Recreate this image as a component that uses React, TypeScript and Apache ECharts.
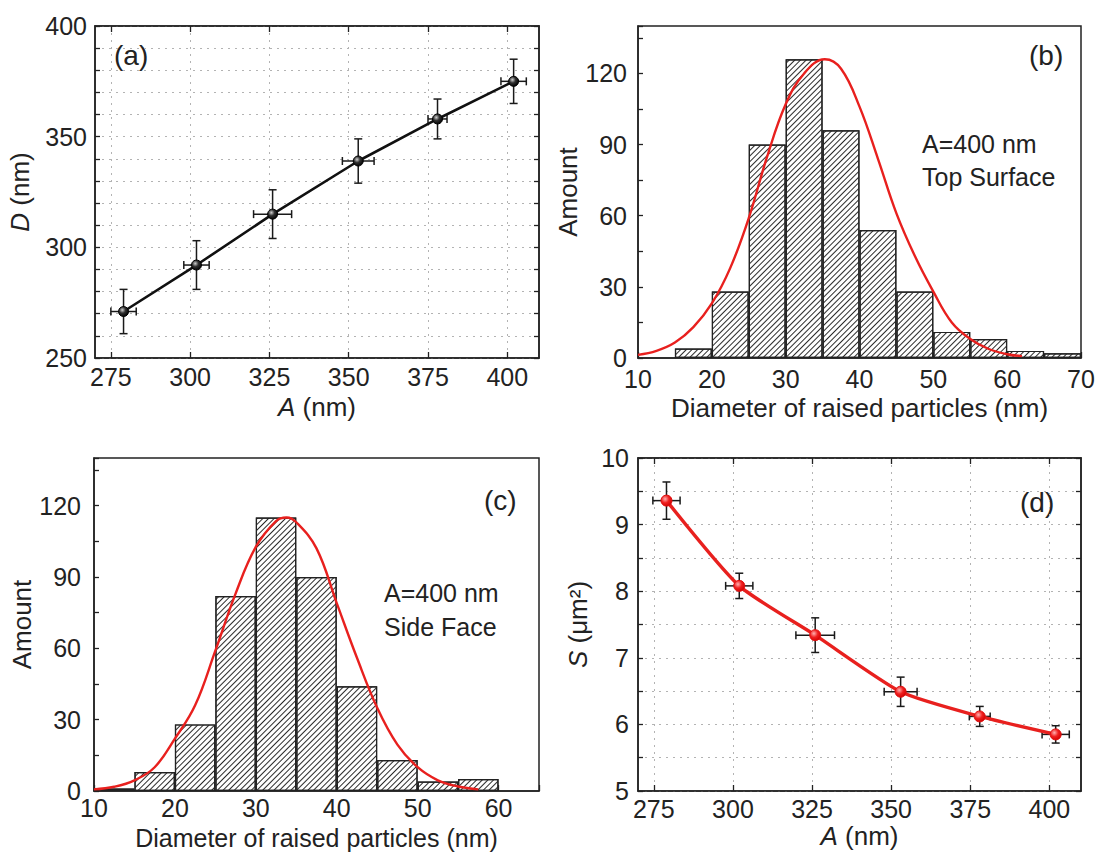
import React, { useEffect, useRef } from 'react';
import * as echarts from 'echarts';

// ---------- Panel (a): D versus A ----------
const aA = [279, 302, 326, 353, 378, 402];
const aAErr = [4, 4, 6, 5, 3, 4];
const aD = [271, 292, 315, 339, 358, 375];
const aDErr = [10, 11, 11, 10, 9, 10];

// ---------- Panel (d): S versus A ----------
const dA = [279, 302, 326, 353, 378, 402];
const dAErr = [4.3, 4.3, 6.1, 5.2, 3.3, 4.3];
const dS = [9.36, 8.08, 7.34, 6.49, 6.12, 5.85];
const dSErr = [0.28, 0.19, 0.26, 0.22, 0.15, 0.13];

const aTickValues = [275, 300, 325, 350, 375, 400];

// ---------- Panel (b): histogram, top surface ----------
const bBins = ['10-15', '15-20', '20-25', '25-30', '30-35', '35-40', '40-45', '45-50', '50-55', '55-60', '60-65', '65-70'];
const bCounts = ['-', 4, 28, 90, 126, 96, 54, 28, 11, 8, 3, 2];
const bFitX = [10, 12.5, 15, 17.5, 20, 22.5, 25, 27.5, 30, 32.5, 35.3, 37.5, 40, 42.5, 45, 47.5, 50, 52.5, 55, 57.5, 60, 62];
const bFitY = [1.3, 3, 6.5, 13, 23, 38, 59, 85, 107, 120, 126, 122, 106, 84, 61, 43, 28, 15, 8, 3.8, 1.6, 0.8];

// ---------- Panel (c): histogram, side face ----------
const cBins = ['10-15', '15-20', '20-25', '25-30', '30-35', '35-40', '40-45', '45-50', '50-55', '55-60', '60-65'];
const cCounts = [1, 8, 28, 82, 115, 90, 44, 13, 4, 5, '-'];
const cFitX = [10, 12.5, 15, 17.5, 20, 22.5, 25, 27.5, 30, 32.5, 33.8, 35, 37.5, 40, 42.5, 45, 47.5, 50, 52.5, 55, 57.5];
const cFitY = [0.7, 1.8, 4.5, 10, 22, 36, 59, 83, 102.6, 113.5, 115, 113, 102, 79, 56, 35, 19.5, 10, 4.5, 1.9, 0.7];

const FONT = '"Liberation Sans", Arial, Helvetica, sans-serif';
const TXT = '#222';
const AXIS_COLOR = '#222';
const RED = '#e8201e';

const labelStyle = { color: TXT, fontSize: 25, lineHeight: 22, fontFamily: FONT };
const makeName = (size: number) => ({
  color: TXT,
  fontSize: size,
  lineHeight: size,
  fontFamily: FONT,
  rich: { i: { fontStyle: 'italic', fontSize: size, lineHeight: size, fontFamily: FONT, color: TXT } },
});
const nameStyle = makeName(26);
const axisLine = { show: true, onZero: false, lineStyle: { color: AXIS_COLOR, width: 1.5 } };
const dotted = { show: true, lineStyle: { color: '#b3b3b3', type: [2, 5], width: 1 } };
const tick = (extra: any = {}) => ({ show: true, inside: true, length: 6, lineStyle: { color: AXIS_COLOR, width: 1.3 }, ...extra });

const hatch = {
  symbol: 'rect',
  symbolSize: 1,
  color: '#2a2a2a',
  backgroundColor: '#ffffff',
  dashArrayX: [1, 0],
  dashArrayY: [1, 2.2],
  rotation: -Math.PI / 4,
};

const errRender = (color: string) => (params: any, api: any) => {
  const x = api.value(0);
  const y = api.value(1);
  const ex = api.value(2);
  const ey = api.value(3);
  const c = api.coord([x, y]);
  const l = api.coord([x - ex, y]);
  const r = api.coord([x + ex, y]);
  const t = api.coord([x, y + ey]);
  const b = api.coord([x, y - ey]);
  const cap = 4;
  const style = { stroke: color, lineWidth: 1.5 };
  return {
    type: 'group',
    children: [
      { type: 'line', shape: { x1: l[0], y1: c[1], x2: r[0], y2: c[1] }, style },
      { type: 'line', shape: { x1: l[0], y1: c[1] - cap, x2: l[0], y2: c[1] + cap }, style },
      { type: 'line', shape: { x1: r[0], y1: c[1] - cap, x2: r[0], y2: c[1] + cap }, style },
      { type: 'line', shape: { x1: c[0], y1: t[1], x2: c[0], y2: b[1] }, style },
      { type: 'line', shape: { x1: c[0] - cap, y1: t[1], x2: c[0] + cap, y2: t[1] }, style },
      { type: 'line', shape: { x1: c[0] - cap, y1: b[1], x2: c[0] + cap, y2: b[1] }, style },
    ],
  };
};

const blackBall = {
  type: 'radial', x: 0.38, y: 0.35, r: 0.7,
  colorStops: [{ offset: 0, color: '#d0d0d0' }, { offset: 0.45, color: '#303030' }, { offset: 1, color: '#000' }],
};
const redBall = {
  type: 'radial', x: 0.38, y: 0.35, r: 0.7,
  colorStops: [{ offset: 0, color: '#ffb0b0' }, { offset: 0.5, color: '#f02020' }, { offset: 1, color: '#d00000' }],
};

const gridBox = { show: true, borderColor: AXIS_COLOR, borderWidth: 1.5, outerBoundsMode: 'none' };

const panelText = (text: string, x: number, y: number, size = 25) => ({
  type: 'text',
  x,
  y,
  silent: true,
  style: { text, fill: TXT, fontSize: size, fontFamily: FONT, align: 'left', verticalAlign: 'middle' },
});

const option: any = {
  animation: false,
  backgroundColor: '#ffffff',
  grid: [
    { left: 95, top: 26, width: 444, height: 332, ...gridBox },
    { left: 638, top: 26, width: 443, height: 332, ...gridBox },
    { left: 94, top: 458, width: 445, height: 333, ...gridBox },
    { left: 638, top: 458, width: 443, height: 333, ...gridBox },
  ],
  xAxis: [
    // 0: (a) bottom
    {
      type: 'value', gridIndex: 0, position: 'bottom', min: 270, max: 410,
      axisLine, axisTick: tick({ customValues: aTickValues }),
      axisLabel: { ...labelStyle, margin: 8, customValues: aTickValues },
      splitLine: dotted,
      name: '{i|A} (nm)', nameLocation: 'middle', nameGap: 36, nameMoveOverlap: false, nameTextStyle: nameStyle,
    },
    // 1: (a) top
    {
      type: 'value', gridIndex: 0, position: 'top', min: 270, max: 410,
      axisLine, axisTick: tick({ customValues: aTickValues }),
      axisLabel: { show: false, customValues: aTickValues }, splitLine: { show: false },
    },
    // 2: (b) bottom value
    {
      type: 'value', gridIndex: 1, position: 'bottom', min: 10, max: 70, interval: 10,
      axisLine, axisTick: tick(), axisLabel: { ...labelStyle, margin: 10 }, splitLine: { show: false },
      name: 'Diameter of raised particles (nm)', nameLocation: 'middle', nameGap: 37, nameMoveOverlap: false, nameTextStyle: nameStyle,
    },
    // 3: (b) hidden bins
    { type: 'category', gridIndex: 1, position: 'top', data: bBins, show: false, boundaryGap: true },
    // 4: (c) bottom value
    {
      type: 'value', gridIndex: 2, position: 'bottom', min: 10, max: 65, interval: 10,
      axisLine, axisTick: tick(),
      axisLabel: { ...labelStyle, margin: 6, formatter: (v: number) => (v <= 60 ? String(v) : '') },
      splitLine: { show: false },
      name: 'Diameter of raised particles (nm)', nameLocation: 'middle', nameGap: 34, nameMoveOverlap: false, nameTextStyle: makeName(25),
    },
    // 5: (c) hidden bins
    { type: 'category', gridIndex: 2, position: 'top', data: cBins, show: false, boundaryGap: true },
    // 6: (d) bottom
    {
      type: 'value', gridIndex: 3, position: 'bottom', min: 270, max: 410,
      axisLine, axisTick: tick({ customValues: aTickValues }),
      axisLabel: { ...labelStyle, margin: 7, customValues: aTickValues },
      splitLine: dotted,
      name: '{i|A} (nm)', nameLocation: 'middle', nameGap: 32, nameMoveOverlap: false, nameTextStyle: nameStyle,
    },
    // 7: (d) top
    {
      type: 'value', gridIndex: 3, position: 'top', min: 270, max: 410,
      axisLine, axisTick: tick({ customValues: aTickValues }),
      axisLabel: { show: false, customValues: aTickValues }, splitLine: { show: false },
    },
  ],
  yAxis: [
    // 0: (a) left
    {
      type: 'value', gridIndex: 0, position: 'left', min: 250, max: 400, interval: 10,
      axisLine, axisTick: tick({ length: 5 }),
      axisLabel: { ...labelStyle, margin: 8, formatter: (v: number) => (v % 50 === 0 ? String(v) : '') },
      splitLine: dotted,
      name: '{i|D} (nm)', nameLocation: 'middle', nameGap: 62, nameTextStyle: nameStyle,
    },
    // 1: (a) right
    {
      type: 'value', gridIndex: 0, position: 'right', min: 250, max: 400, interval: 10,
      axisLine, axisTick: tick({ length: 5 }), axisLabel: { show: false }, splitLine: { show: false },
    },
    // 2: (b) left
    {
      type: 'value', gridIndex: 1, position: 'left', min: 0, max: 140, interval: 15,
      axisLine, axisTick: tick({ length: 5 }),
      axisLabel: { ...labelStyle, margin: 11, formatter: (v: number) => (v % 30 === 0 && v <= 120 ? String(v) : '') },
      splitLine: { show: false },
      name: 'Amount', nameLocation: 'middle', nameGap: 54, nameTextStyle: nameStyle,
    },
    // 3: (c) left
    {
      type: 'value', gridIndex: 2, position: 'left', min: 0, max: 140, interval: 15,
      axisLine, axisTick: tick({ length: 5 }),
      axisLabel: { ...labelStyle, margin: 13, formatter: (v: number) => (v % 30 === 0 && v <= 120 ? String(v) : '') },
      splitLine: { show: false },
      name: 'Amount', nameLocation: 'middle', nameGap: 50, nameTextStyle: nameStyle,
    },
    // 4: (d) left
    {
      type: 'value', gridIndex: 3, position: 'left', min: 5, max: 10, interval: 0.5,
      axisLine, axisTick: tick({ length: 5 }),
      axisLabel: { ...labelStyle, margin: 9, formatter: (v: number) => (Number.isInteger(v) ? String(v) : '') },
      splitLine: dotted,
      name: '{i|S} (μm²)', nameLocation: 'middle', nameGap: 47, nameTextStyle: nameStyle,
    },
    // 5: (d) right
    {
      type: 'value', gridIndex: 3, position: 'right', min: 5, max: 10, interval: 0.5,
      axisLine, axisTick: tick({ length: 5 }), axisLabel: { show: false }, splitLine: { show: false },
    },
  ],
  series: [
    // (a)
    {
      type: 'custom', xAxisIndex: 0, yAxisIndex: 0, silent: true, z: 3,
      data: aA.map((x, i) => [x, aD[i], aAErr[i], aDErr[i]]),
      encode: { x: 0, y: 1 },
      renderItem: errRender('#1a1a1a'),
    },
    {
      type: 'line', xAxisIndex: 0, yAxisIndex: 0, z: 4,
      data: aA.map((x, i) => [x, aD[i]]),
      symbol: 'circle', symbolSize: 10,
      lineStyle: { color: '#111', width: 2.6 },
      itemStyle: { color: blackBall, borderColor: '#000', borderWidth: 1 },
    },
    // (b)
    {
      type: 'bar', xAxisIndex: 3, yAxisIndex: 2, z: 2,
      data: bCounts, barWidth: '100%', barGap: '0%', barCategoryGap: '0%',
      itemStyle: { color: '#fff', borderColor: '#222', borderWidth: 1.2, decal: hatch },
    },
    {
      type: 'line', xAxisIndex: 2, yAxisIndex: 2, z: 5,
      data: bFitX.map((x, i) => [x, bFitY[i]]),
      smooth: 0.4, symbol: 'none',
      lineStyle: { color: RED, width: 2.4 },
    },
    // (c)
    {
      type: 'bar', xAxisIndex: 5, yAxisIndex: 3, z: 2,
      data: cCounts, barWidth: '100%', barGap: '0%', barCategoryGap: '0%',
      itemStyle: { color: '#fff', borderColor: '#222', borderWidth: 1.2, decal: hatch },
    },
    {
      type: 'line', xAxisIndex: 4, yAxisIndex: 3, z: 5,
      data: cFitX.map((x, i) => [x, cFitY[i]]),
      smooth: 0.4, symbol: 'none',
      lineStyle: { color: RED, width: 2.4 },
    },
    // (d)
    {
      type: 'custom', xAxisIndex: 6, yAxisIndex: 4, silent: true, z: 3,
      data: dA.map((x, i) => [x, dS[i], dAErr[i], dSErr[i]]),
      encode: { x: 0, y: 1 },
      renderItem: errRender('#1a1a1a'),
    },
    {
      type: 'line', xAxisIndex: 6, yAxisIndex: 4, z: 4,
      data: dA.map((x, i) => [x, dS[i]]),
      smooth: 0.2,
      symbol: 'circle', symbolSize: 11,
      lineStyle: { color: RED, width: 3.4 },
      itemStyle: { color: redBall, borderColor: '#e01010', borderWidth: 1 },
    },
  ],
  graphic: [
    panelText('(a)', 114, 55, 28),
    panelText('(b)', 1029, 55, 28),
    panelText('(c)', 484, 500, 28),
    panelText('(d)', 1020, 502, 28),
    panelText('A=400 nm', 922, 144),
    panelText('Top Surface', 922, 177),
    panelText('A=400 nm', 384, 593),
    panelText('Side Face', 384, 627),
  ],
};

export default function App() {
  const ref = useRef<HTMLDivElement>(null);
  useEffect(() => {
    if (!ref.current) return;
    const chart = echarts.init(ref.current, null, { renderer: 'svg' });
    chart.setOption(option);
    return () => chart.dispose();
  }, []);
  return (
    <div
      ref={ref}
      style={{ position: 'fixed', left: 0, top: 0, width: 1097, height: 853, background: '#fff' }}
    />
  );
}
